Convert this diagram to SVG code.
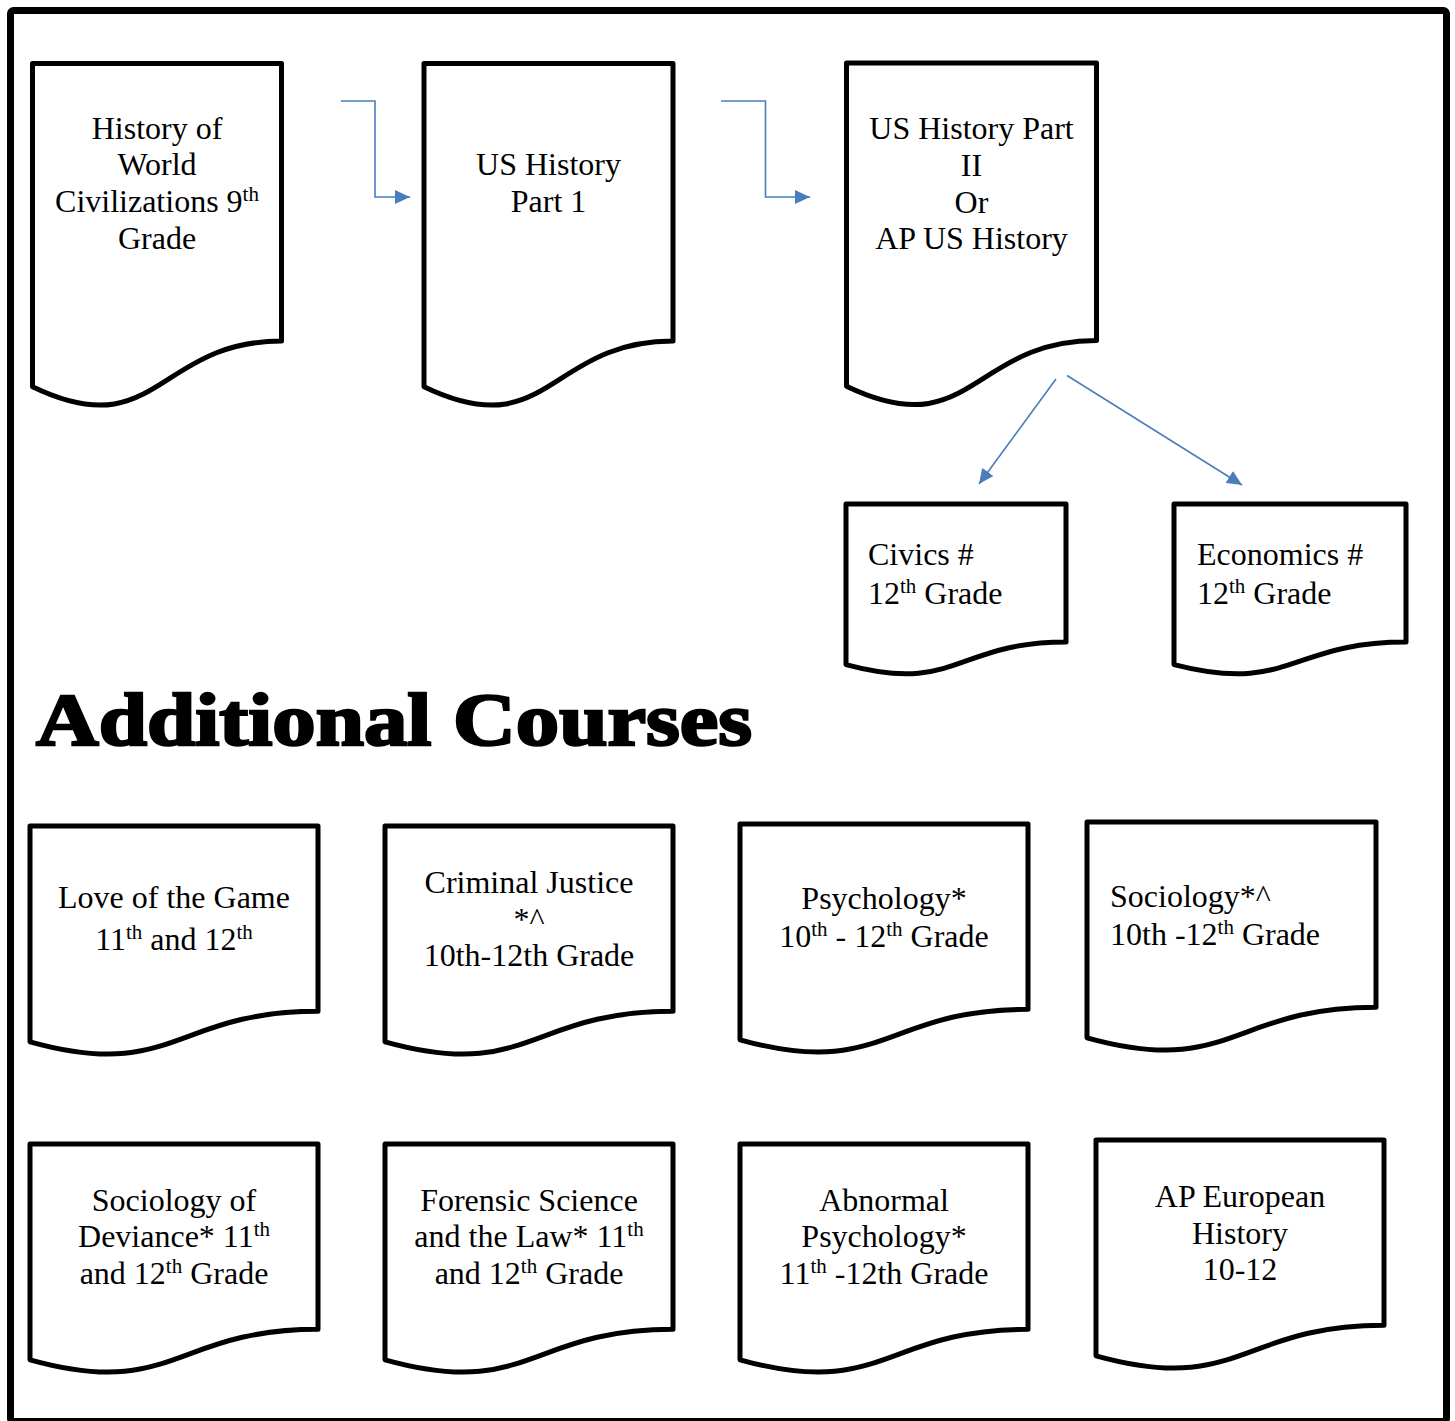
<svg xmlns="http://www.w3.org/2000/svg" width="1455" height="1421" viewBox="0 0 1455 1421">
<style>
.doc{fill:#fff;stroke:#000;stroke-width:5;stroke-linejoin:round}
.t{font-family:"Liberation Serif","Times New Roman",serif;font-size:32px;fill:#000}
.c{text-anchor:middle}
.sup{font-size:21px}
.con{fill:none;stroke:#4A7EBB;stroke-width:1.6}
.title{font-family:"Liberation Serif","Times New Roman",serif;font-weight:bold;font-size:75px;fill:#000;stroke:#000;stroke-width:2.5}
</style>
<defs>
<marker id="ah" markerUnits="userSpaceOnUse" viewBox="0 0 15 14" markerWidth="15" markerHeight="14" refX="15" refY="7" orient="auto">
<path d="M0,0 L15,7 L0,14 Z" fill="#4A7EBB"/>
</marker>
</defs>
<rect x="10.5" y="10.5" width="1436" height="1411" fill="#fff" stroke="#000" stroke-width="7" rx="3"/>

<g id="n-world">
<path class="doc" d="M32.5,63.5 H281.5 V341 C157,341 157,446.7 32.5,386.7 Z"/>
<text class="t c" x="157" y="138.5">History of</text>
<text class="t c" x="157" y="175.2">World</text>
<text class="t c" x="157" y="212">Civilizations 9<tspan class="sup" dy="-11">th</tspan></text>
<text class="t c" x="157" y="248.6">Grade</text>
</g>

<g id="n-us1">
<path class="doc" d="M424,63.5 H673 V341 C548.5,341 548.5,446.7 424,386.7 Z"/>
<text class="t c" x="548.5" y="175">US History</text>
<text class="t c" x="548.5" y="211.7">Part 1</text>
</g>

<g id="n-us2">
<path class="doc" d="M846.5,63 H1096.5 V340.5 C971.5,340.5 971.5,446.2 846.5,386.2 Z"/>
<text class="t c" x="971.5" y="139.3">US History Part</text>
<text class="t c" x="971.5" y="176">II</text>
<text class="t c" x="971.5" y="212.7">Or</text>
<text class="t c" x="971.5" y="249.3">AP US History</text>
</g>

<g id="n-civics">
<path class="doc" d="M846,504 H1066 V642 C956,642 956,694.5 846,664.6 Z"/>
<text class="t" x="868" y="565">Civics #</text>
<text class="t" x="868" y="603.5">12<tspan class="sup" dy="-11">th</tspan><tspan dy="11"> Grade</tspan></text>
</g>

<g id="n-econ">
<path class="doc" d="M1174,504 H1406 V642 C1290,642 1290,694.5 1174,664.6 Z"/>
<text class="t" x="1197" y="565">Economics #</text>
<text class="t" x="1197" y="603.5">12<tspan class="sup" dy="-11">th</tspan><tspan dy="11"> Grade</tspan></text>
</g>

<g id="connectors">
<polyline class="con" points="341,101 375,101 375,197 410,197" marker-end="url(#ah)"/>
<polyline class="con" points="721,101 765.5,101 765.5,197 810,197" marker-end="url(#ah)"/>
<line class="con" x1="1056" y1="379" x2="979" y2="484" marker-end="url(#ah)"/>
<line class="con" x1="1067" y1="375.5" x2="1242" y2="485" marker-end="url(#ah)"/>
</g>

<g id="title">
<text class="title" x="36" y="745" textLength="716" lengthAdjust="spacingAndGlyphs">Additional Courses</text>
</g>

<g id="n-love">
<path class="doc" d="M30,826 H318 V1011.3 C174,1011.3 174,1081.8 30,1041.8 Z"/>
<text class="t c" x="174" y="908">Love of the Game</text>
<text class="t c" x="174" y="950">11<tspan class="sup" dy="-11">th</tspan><tspan dy="11"> and 12</tspan><tspan class="sup" dy="-11">th</tspan></text>
</g>

<g id="n-criminal">
<path class="doc" d="M385,826 H673 V1011.3 C529,1011.3 529,1081.8 385,1041.8 Z"/>
<text class="t c" x="529" y="893">Criminal Justice</text>
<text class="t c" x="529" y="929.5">*^</text>
<text class="t c" x="529" y="966">10th-12th Grade</text>
</g>

<g id="n-psych">
<path class="doc" d="M740,824 H1028 V1009.3 C884,1009.3 884,1079.8 740,1039.8 Z"/>
<text class="t c" x="884" y="908.5">Psychology*</text>
<text class="t c" x="884" y="946.5">10<tspan class="sup" dy="-11">th</tspan><tspan dy="11"> - 12</tspan><tspan class="sup" dy="-11">th</tspan><tspan dy="11"> Grade</tspan></text>
</g>

<g id="n-soc">
<path class="doc" d="M1087,822 H1376 V1007.3 C1231.5,1007.3 1231.5,1077.8 1087,1037.8 Z"/>
<text class="t" x="1110" y="906.5">Sociology*^</text>
<text class="t" x="1110" y="944.5">10th -12<tspan class="sup" dy="-11">th</tspan><tspan dy="11"> Grade</tspan></text>
</g>

<g id="n-deviance">
<path class="doc" d="M30,1144 H318 V1329.3 C174,1329.3 174,1399.8 30,1359.8 Z"/>
<text class="t c" x="174" y="1210.5">Sociology of</text>
<text class="t c" x="174" y="1247">Deviance* 11<tspan class="sup" dy="-11">th</tspan></text>
<text class="t c" x="174" y="1284">and 12<tspan class="sup" dy="-11">th</tspan><tspan dy="11"> Grade</tspan></text>
</g>

<g id="n-forensic">
<path class="doc" d="M385,1144 H673 V1329.3 C529,1329.3 529,1399.8 385,1359.8 Z"/>
<text class="t c" x="529" y="1210.5">Forensic Science</text>
<text class="t c" x="529" y="1247">and the Law* 11<tspan class="sup" dy="-11">th</tspan></text>
<text class="t c" x="529" y="1284">and 12<tspan class="sup" dy="-11">th</tspan><tspan dy="11"> Grade</tspan></text>
</g>

<g id="n-abnormal">
<path class="doc" d="M740,1144 H1028 V1329.3 C884,1329.3 884,1399.8 740,1359.8 Z"/>
<text class="t c" x="884" y="1210.5">Abnormal</text>
<text class="t c" x="884" y="1247">Psychology*</text>
<text class="t c" x="884" y="1284">11<tspan class="sup" dy="-11">th</tspan><tspan dy="11"> -12th Grade</tspan></text>
</g>

<g id="n-apeuro">
<path class="doc" d="M1096,1140 H1384 V1325.3 C1240,1325.3 1240,1395.8 1096,1355.8 Z"/>
<text class="t c" x="1240" y="1207">AP European</text>
<text class="t c" x="1240" y="1243.5">History</text>
<text class="t c" x="1240" y="1280">10-12</text>
</g>
</svg>
